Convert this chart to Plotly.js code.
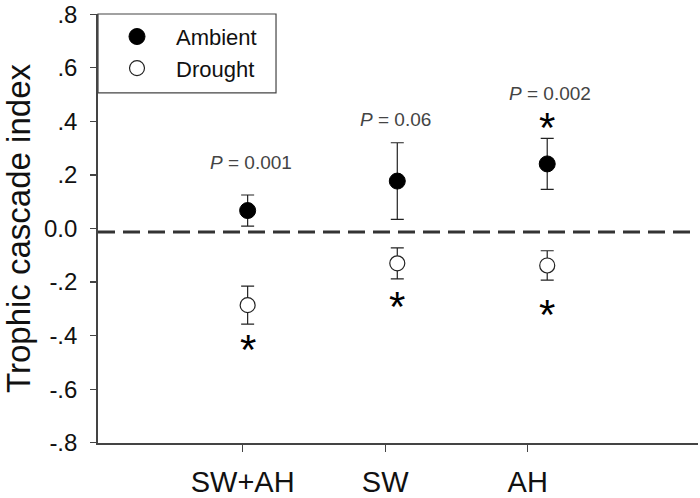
<!DOCTYPE html>
<html>
<head>
<meta charset="utf-8">
<script src="https://cdn.plot.ly/plotly-3.0.1.min.js"></script>
<style>
  html, body { margin: 0; padding: 0; background: #fff; }
  #chart { width: 700px; height: 498px; }
</style>
</head>
<body>
<div id="chart"></div>
<script>
// ---- data ----
const categories = ["SW+AH", "SW", "AH"];
const tickPos = [1, 2, 3];
const pointX = [1.035, 2.085, 3.137];

const ambient = [0.067, 0.177, 0.241];
const ambientErr = [0.058, 0.143, 0.095];
const drought = [-0.286, -0.130, -0.138];
const droughtErr = [0.071, 0.058, 0.055];

const pLabels = ["<i>P</i> = 0.001", "<i>P</i> = 0.06", "<i>P</i> = 0.002"];
const pX = [1.058, 2.072, 3.157];
const pY = [0.245, 0.408, 0.505];

const starX = [1.035, 2.083, 3.135, 3.135];
const starY = [-0.430, -0.270, 0.400, -0.300];

const refLine = -0.013;

const yTickVals = [0.8, 0.6, 0.4, 0.2, 0, -0.2, -0.4, -0.6, -0.8];
const yTickText = [".8", ".6", ".4", ".2", "0.0", "-.2", "-.4", "-.6", "-.8"];

const FONT = "Liberation Sans, Arial, sans-serif";

const traces = [
  {
    x: pointX, y: ambient, name: "Ambient", type: "scatter", mode: "markers",
    marker: { color: "#000", size: 16, line: { color: "#000", width: 1 } },
    error_y: { type: "data", array: ambientErr, visible: true, color: "#222", thickness: 1.2, width: 6.5 }
  },
  {
    x: pointX, y: drought, name: "Drought", type: "scatter", mode: "markers",
    marker: { color: "#fff", size: 15, symbol: "circle", line: { color: "#222", width: 1.2 } },
    error_y: { type: "data", array: droughtErr, visible: true, color: "#222", thickness: 1.2, width: 6.5 }
  }
];

const annotations = pLabels.map((t, i) => ({
  x: pX[i], y: pY[i], xref: "x", yref: "y", text: t, showarrow: false,
  font: { family: FONT, size: 19, color: "#444" }, xanchor: "center", yanchor: "middle"
})).concat(starX.map((sx, i) => ({
  x: sx, y: starY[i], xref: "x", yref: "y", text: "*", showarrow: false,
  font: { family: FONT, size: 42, color: "#000" }, xanchor: "center", yanchor: "middle", yshift: -6
})));

const layout = {
  width: 700, height: 498,
  margin: { l: 98, r: 2, t: 14, b: 55 },
  paper_bgcolor: "#fff", plot_bgcolor: "#fff",
  font: { family: FONT, color: "#111" },
  showlegend: true,
  legend: {
    x: 0.0, y: 0.996, xanchor: "left", yanchor: "top",
    bgcolor: "rgba(0,0,0,0)", borderwidth: 0,
    font: { family: FONT, size: 22, color: "#111" },
    tracegroupgap: 0, itemwidth: 68
  },
  xaxis: {
    range: [-0.015, 4.195], tickvals: tickPos, ticktext: categories,
    showgrid: false, zeroline: false, showline: true, linecolor: "#444", linewidth: 1.8,
    ticks: "outside", ticklen: 7, tickcolor: "#444", tickwidth: 1.2,
    tickfont: { family: FONT, size: 29, color: "#111" }, ticklabelstandoff: 5,
    fixedrange: true
  },
  yaxis: {
    range: [-0.8005, 0.8005], tickvals: yTickVals, ticktext: yTickText,
    showgrid: false, zeroline: false, showline: true, linecolor: "#444", linewidth: 1.8,
    ticks: "outside", ticklen: 6, tickcolor: "#444", tickwidth: 1.2,
    tickfont: { family: FONT, size: 24, color: "#111" }, ticklabelstandoff: 8,
    ticklabeloverflow: "allow",
    title: { text: "Trophic cascade index", font: { family: FONT, size: 33, color: "#111" }, standoff: 8 },
    automargin: false, fixedrange: true
  },
  shapes: [
    { type: "line", xref: "paper", yref: "y", x0: 0, x1: 1, y0: refLine, y1: refLine,
      line: { color: "#333", width: 3, dash: "17px,8px" } },
    { type: "rect", xref: "paper", yref: "paper", x0: 0, x1: 0.2967, y0: 0.8163, y1: 1,
      line: { color: "#444", width: 1.2 }, fillcolor: "rgba(0,0,0,0)" }
  ],
  annotations: annotations
};

Plotly.newPlot("chart", traces, layout, { displayModeBar: false, staticPlot: true });
</script>
</body>
</html>
